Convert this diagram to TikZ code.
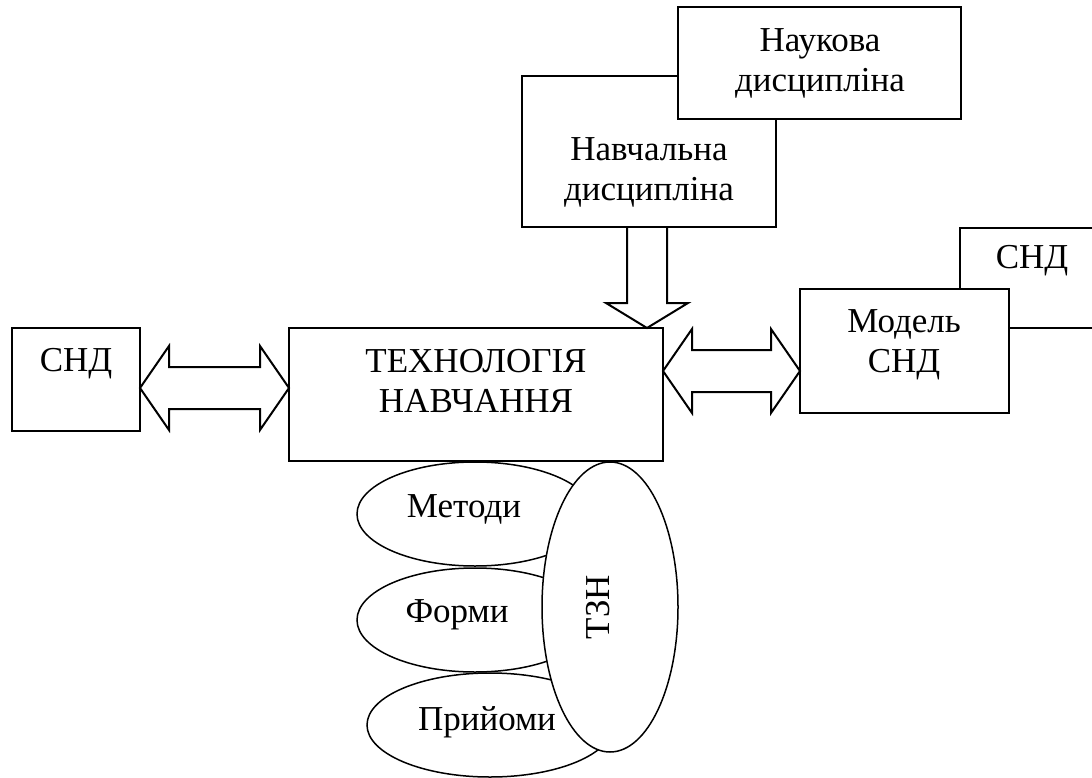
\documentclass[tikz,border=0pt]{standalone}
\usepackage{fontspec}
\setmainfont{Liberation Serif}
\usepackage{tikz}
\usetikzlibrary{positioning,shapes.geometric,calc}

\newcommand{\dblarrow}[2]{%
  \draw [block] (#1) -- ($(#1)+(29,-42)$) -- ($(#1)+(29,-21)$)
    -- ($(#2)+(-29,-21)$) -- ($(#2)+(-29,-42)$) -- (#2)
    -- ($(#2)+(-29,42)$) -- ($(#2)+(-29,21)$)
    -- ($(#1)+(29,21)$) -- ($(#1)+(29,42)$) -- cycle;}

\begin{document}
\begin{tikzpicture}[x=1pt, y=-1pt]
            \tikzstyle{box} = [draw, fill=white, line width=2pt, inner sep=0, outer sep=0, anchor=north west];
            \tikzstyle{oval} = [ellipse, draw, fill=white, line width=1.5pt, inner sep=0, outer sep=0];
            \tikzstyle{txt} = [font=\fontsize{35}{40}\selectfont, align=center, inner sep=0];
            \tikzstyle{block} = [line width=2pt, line join=miter];

            \useasboundingbox [fill=white] (0,0) rectangle (1092,778);
            \clip (0,0) rectangle (1092,778);

            % boxes
            \node [box, minimum width=254pt, minimum height=151pt] (ND) at (522,76) {};
            \node [box, minimum width=283pt, minimum height=112pt] (NaukD) at (678,7) {};
            \node [box, minimum width=374pt, minimum height=133pt] (TN) at (289,328) {};
            \node [box, minimum width=128pt, minimum height=103pt] (SND) at (12,328) {};
            \node [box, minimum width=144pt, minimum height=100pt] (SNDr) at (960,228) {};
            \node [box, minimum width=209pt, minimum height=124pt] (Model) at (800,289) {};

            % ovals
            \node [oval, minimum width=236pt, minimum height=104pt] (M) at (475,514) {};
            \node [oval, minimum width=236pt, minimum height=104pt] (F) at (475,620) {};
            \node [oval, minimum width=246pt, minimum height=104pt] (P) at (490,725) {};
            \node [oval, minimum width=136pt, minimum height=290pt] (TZN) at (610,607) {};

            % block arrows
            \coordinate (yL) at (0,388);
            \coordinate (yR) at (0,371);
            \coordinate (xD) at (647,0);
            \dblarrow{SND.east |- yL}{TN.west |- yL}
            \dblarrow{TN.east |- yR}{Model.west |- yR}
            \draw [block] ($(ND.south -| xD)+(-20,0)$) -- ($(TN.north -| xD)+(-20,-25)$)
                -- ($(TN.north -| xD)+(-41,-25)$) -- (TN.north -| xD)
                -- ($(TN.north -| xD)+(41,-25)$) -- ($(TN.north -| xD)+(20,-25)$)
                -- ($(ND.south -| xD)+(20,0)$);

            % texts
            \node [txt] (tNaukD) at (820,63) {Наукова\\дисципліна};
            \node [txt] (tND) at (649,172) {Навчальна\\дисципліна};
            \node [txt] (tTN) at (476,381) {ТЕХНОЛОГІЯ\\НАВЧАННЯ};
            \node [txt] (tSND) at (76,364) {СНД};
            \node [txt] (tModel) at (904,345) {Модель\\СНД};
            \node [txt] (tSNDr) at (1032,261) {СНД};
            \node [txt] (tM) at (464,509) {Методи};
            \node [txt] (tF) at (457,615) {Форми};
            \node [txt] (tP) at (487,722) {Прийоми};
            \node [txt, rotate=90] (tTZN) at (598,607) {ТЗН};
\end{tikzpicture}
\end{document}
